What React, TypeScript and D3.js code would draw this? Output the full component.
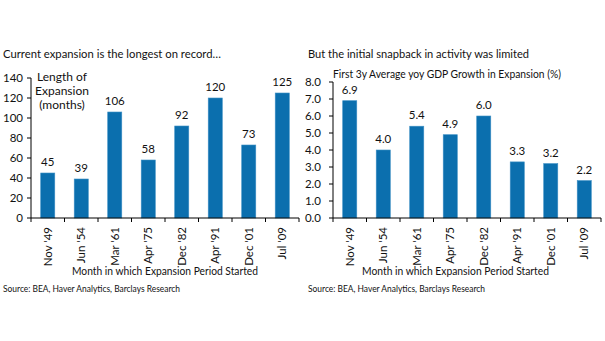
import React from "react";
import * as d3 from "d3";

const categories = ["Nov '49", "Jun '54", "Mar '61", "Apr '75", "Dec '82", "Apr '91", "Dec '01", "Jul '09"];
const expansionMonths = [45, 39, 106, 58, 92, 120, 73, 125];
const gdpGrowth = [6.9, 4.0, 5.4, 4.9, 6.0, 3.3, 3.2, 2.2];
const leftTicks = [0, 20, 40, 60, 80, 100, 120, 140];
const rightTicks = [0, 1, 2, 3, 4, 5, 6, 7, 8];
const leftTitle = "Current expansion is the longest on record…";
const rightTitle = "But the initial snapback in activity was limited";
const leftNote = ["Length of", "Expansion", "(months)"];
const rightNote = "First 3y Average yoy GDP Growth in Expansion (%)";
const xTitle = "Month in which Expansion Period Started";
const source = "Source: BEA, Haver Analytics, Barclays Research";

const FONT = "Lato, 'Open Sans', sans-serif";
const BLUE = "#0b6fae";
const TXT = "#111";

type PanelProps = {
  ox: number;
  x0: number;
  x1: number;
  values: number[];
  ticks: number[];
  yMax: number;
  yTop: number;
  fmt: (v: number) => string;
  title: string;
  titleW: number;
  tickLabelRight: number;
  xTitleW: number;
  xTitleCx: number;
};

function Panel(p: PanelProps) {
  const yBottom = 218;
  const x = d3.scaleBand<string>().domain(categories).range([p.x0, p.x1]).paddingInner(0.58).paddingOuter(0.29);
  const y = d3.scaleLinear().domain([0, p.yMax]).range([yBottom, p.yTop]);
  const step = x.step();
  return (
    <g>
      <text x={p.ox} y={58} fontSize={11.5} fill={TXT} fontFamily={FONT} textLength={p.titleW} lengthAdjust="spacingAndGlyphs">
        {p.title}
      </text>
      {p.values.map((v, i) => (
        <rect key={i} x={x(categories[i])} y={y(v)} width={x.bandwidth()} height={yBottom - y(v)} fill={BLUE} stroke="#3d8fc4" strokeWidth={0.6} />
      ))}
      {p.values.map((v, i) => (
        <text key={"l" + i} x={(x(categories[i]) as number) + x.bandwidth() / 2} y={y(v) - 7} fontSize={11.5} textAnchor="middle" fill={TXT} fontFamily={FONT}>
          {p.fmt(v)}
        </text>
      ))}
      <line x1={p.x0} x2={p.x0} y1={y(p.yMax)} y2={yBottom} stroke="#000" strokeWidth={1} />
      <line x1={p.x0} x2={p.x1} y1={yBottom} y2={yBottom} stroke="#000" strokeWidth={1} />
      {p.ticks.map((t) => (
        <g key={"t" + t}>
          <line x1={p.x0 - 4} x2={p.x0} y1={y(t)} y2={y(t)} stroke="#000" />
          <text x={p.tickLabelRight} y={y(t) + 4} fontSize={11.5} textAnchor="end" fill={TXT} fontFamily={FONT}>
            {p.fmt(t)}
          </text>
        </g>
      ))}
      {d3.range(categories.length + 1).map((i) => (
        <line key={"xt" + i} x1={p.x0 + i * step} x2={p.x0 + i * step} y1={yBottom} y2={yBottom + 4} stroke="#000" />
      ))}
      {categories.map((c, i) => {
        const cx = (x(c) as number) + x.bandwidth() / 2;
        return (
          <text key={"c" + i} transform={`translate(${cx + 4},227) rotate(-90)`} fontSize={11.5} textAnchor="end" fill={TXT} fontFamily={FONT}>
            {c}
          </text>
        );
      })}
      <text x={p.xTitleCx} y={275} fontSize={11.5} textAnchor="middle" fill={TXT} fontFamily={FONT} textLength={p.xTitleW} lengthAdjust="spacingAndGlyphs">
        {xTitle}
      </text>
      <text x={p.ox} y={292} fontSize={8.5} fill={TXT} fontFamily={FONT} textLength={177} lengthAdjust="spacingAndGlyphs">
        {source}
      </text>
    </g>
  );
}

export default function App() {
  return (
    <svg width={605} height={341} style={{ position: "absolute", left: 0, top: 0, background: "#fff" }}>
      <rect width={605} height={341} fill="#fff" />
      <Panel ox={3} x0={31} x1={299} values={expansionMonths} ticks={leftTicks} yMax={140} yTop={78}
        fmt={(v) => String(v)} title={leftTitle} titleW={218} tickLabelRight={23} xTitleW={186} xTitleCx={165} />
      <Panel ox={308} x0={333} x1={601} values={gdpGrowth} ticks={rightTicks} yMax={8} yTop={82}
        fmt={(v) => v.toFixed(1)} title={rightTitle} titleW={221} tickLabelRight={321} xTitleW={187} xTitleCx={455.5} />
      {leftNote.map((s, i) => (
        <text key={s} x={62} y={81 + i * 14} fontSize={12} textAnchor="middle" fill={TXT} fontFamily={FONT}>
          {s}
        </text>
      ))}
      <text x={333} y={78} fontSize={11.5} fill={TXT} fontFamily={FONT} textLength={228} lengthAdjust="spacingAndGlyphs">
        {rightNote}
      </text>
    </svg>
  );
}
